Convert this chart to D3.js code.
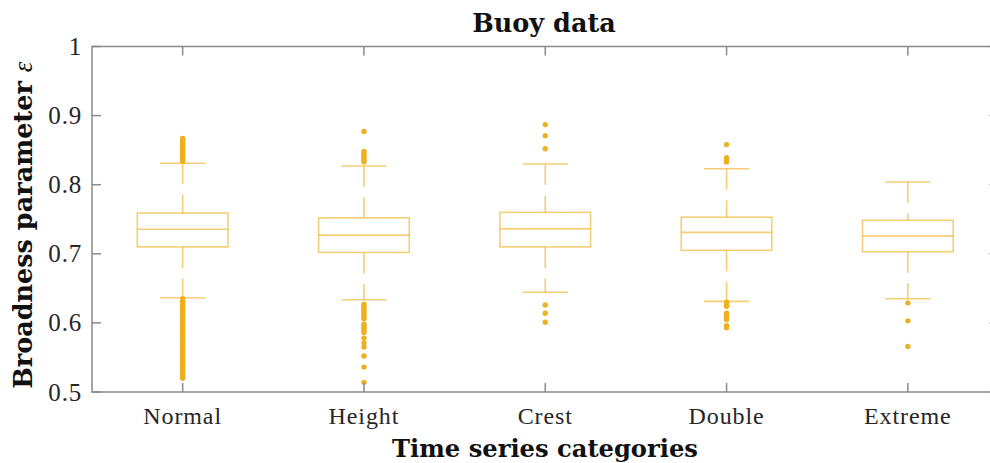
<!DOCTYPE html>
<html>
<head>
<meta charset="utf-8">
<script src="https://cdn.jsdelivr.net/npm/d3@7"></script>
<style>
  html, body { margin: 0; padding: 0; background: #fff; }
  svg { display: block; }
</style>
</head>
<body>
<div id="chart"></div>
<script>
// Box plot summaries of the broadness parameter per time-series category
const categories = ["Normal", "Height", "Crest", "Double", "Extreme"];
const q1         = [0.710, 0.702, 0.710, 0.705, 0.703];
const medians    = [0.7355, 0.727, 0.736, 0.731, 0.726];
const q3         = [0.759, 0.752, 0.760, 0.753, 0.7485];
const whiskerLow = [0.6365, 0.6336, 0.6443, 0.6312, 0.635];
const whiskerHigh= [0.831, 0.827, 0.830, 0.823, 0.804];

// Outliers beyond the whiskers
const outliersNormal = [
  0.834, 0.836, 0.838, 0.840, 0.842, 0.844, 0.846, 0.848, 0.850, 0.852,
  0.854, 0.856, 0.858, 0.860, 0.862, 0.864, 0.866, 0.867,
  0.635, 0.632, 0.629, 0.627, 0.624, 0.621, 0.618, 0.615, 0.612, 0.609,
  0.606, 0.603, 0.600, 0.597, 0.594, 0.591, 0.588, 0.585, 0.582, 0.579,
  0.576, 0.573, 0.570, 0.567, 0.564, 0.561, 0.558, 0.555, 0.552, 0.549,
  0.546, 0.543, 0.540, 0.537, 0.534, 0.531, 0.528, 0.525, 0.522, 0.520
];
const outliersHeight = [
  0.877, 0.848, 0.845, 0.842, 0.839, 0.836, 0.833,
  0.627, 0.624, 0.621, 0.618, 0.615, 0.612, 0.609, 0.606,
  0.598, 0.595, 0.592, 0.589, 0.586, 0.578, 0.571, 0.565,
  0.552, 0.536, 0.514
];
const outliersCrest = [0.887, 0.871, 0.852, 0.626, 0.614, 0.601];
const outliersDouble = [
  0.858, 0.839, 0.836, 0.833,
  0.630, 0.627, 0.624, 0.614, 0.611, 0.608, 0.605, 0.596, 0.593
];
const outliersExtreme = [0.629, 0.603, 0.566];
const outliers = [outliersNormal, outliersHeight, outliersCrest, outliersDouble, outliersExtreme];

const yTickValues = [0.5, 0.6, 0.7, 0.8, 0.9, 1];
const yTickLabels = ["0.5", "0.6", "0.7", "0.8", "0.9", "1"];

const titleText = "Buoy data";
const xLabelText = "Time series categories";
const yLabelText = "Broadness parameter ";
const yLabelSymbol = "\u03b5";

// ---- layout ----
const W = 990, H = 463;
const plot = { left: 92, right: 998.5, top: 46.5, bottom: 392 };
const axisColor = "#8a8a8a";
const textColor = "#262626";
const boxColor = "#EDB120";
const serif = "'Liberation Serif', 'Times New Roman', serif";
const boldSerif = "'DejaVu Serif', serif";

const svg = d3.select("#chart").append("svg")
  .attr("width", W).attr("height", H);

const x = d3.scaleLinear().domain([0.5, categories.length + 0.5])
  .range([plot.left, plot.right]);
const y = d3.scaleLinear().domain([0.5, 1]).range([plot.bottom, plot.top]);

const boxHalf = 0.25;   // box width 0.5 category units
const capHalf = 0.125;  // whisker cap width 0.25 units

const g = svg.append("g");

// whiskers (dashed), caps, boxes and medians
categories.forEach((c, i) => {
  const cx = x(i + 1);
  const grp = g.append("g")
    .attr("stroke", boxColor).attr("stroke-opacity", 0.62)
    .attr("stroke-width", 1.6).attr("fill", "none");
  grp.append("line")
    .attr("x1", cx).attr("x2", cx)
    .attr("y1", y(whiskerHigh[i])).attr("y2", y(q3[i]))
    .attr("stroke-dasharray", "21 10.5");
  grp.append("line")
    .attr("x1", cx).attr("x2", cx)
    .attr("y1", y(q1[i])).attr("y2", y(whiskerLow[i]))
    .attr("stroke-dasharray", "21 10.5");
  [whiskerHigh[i], whiskerLow[i]].forEach(v => {
    grp.append("line")
      .attr("x1", x(i + 1 - capHalf)).attr("x2", x(i + 1 + capHalf))
      .attr("y1", y(v)).attr("y2", y(v));
  });
  grp.append("rect")
    .attr("x", x(i + 1 - boxHalf))
    .attr("width", x(i + 1 + boxHalf) - x(i + 1 - boxHalf))
    .attr("y", y(q3[i]))
    .attr("height", y(q1[i]) - y(q3[i]));
  grp.append("line")
    .attr("x1", x(i + 1 - boxHalf)).attr("x2", x(i + 1 + boxHalf))
    .attr("y1", y(medians[i])).attr("y2", y(medians[i]));
});

// outlier dots
categories.forEach((c, i) => {
  g.append("g").selectAll("circle")
    .data(outliers[i]).join("circle")
    .attr("cx", x(i + 1))
    .attr("cy", d => y(d))
    .attr("r", 2.7)
    .attr("fill", boxColor);
});

// ---- axes (box on, inward ticks) ----
const tickLen = 9;
const ax = svg.append("g").attr("stroke", axisColor).attr("stroke-width", 1.5).attr("fill", "none");
ax.append("rect")
  .attr("x", plot.left).attr("y", plot.top)
  .attr("width", plot.right - plot.left).attr("height", plot.bottom - plot.top);

const xTicks = categories.map((c, i) => i + 1);
xTicks.forEach(t => {
  ax.append("line").attr("x1", x(t)).attr("x2", x(t))
    .attr("y1", plot.bottom).attr("y2", plot.bottom - tickLen);
  ax.append("line").attr("x1", x(t)).attr("x2", x(t))
    .attr("y1", plot.top).attr("y2", plot.top + tickLen);
});
yTickValues.forEach(t => {
  ax.append("line").attr("x1", plot.left).attr("x2", plot.left + tickLen)
    .attr("y1", y(t)).attr("y2", y(t));
  ax.append("line").attr("x1", plot.right).attr("x2", plot.right - tickLen)
    .attr("y1", y(t)).attr("y2", y(t));
});

// tick labels
svg.append("g").selectAll("text")
  .data(yTickValues).join("text")
  .attr("x", plot.left - 10)
  .attr("y", d => y(d))
  .attr("dy", "0.34em")
  .attr("text-anchor", "end")
  .attr("font-family", serif)
  .attr("font-size", 25)
  .attr("letter-spacing", 0.8)
  .attr("fill", textColor)
  .text((d, i) => yTickLabels[i]);

svg.append("g").selectAll("text")
  .data(categories).join("text")
  .attr("x", (d, i) => x(i + 1))
  .attr("y", 424)
  .attr("text-anchor", "middle")
  .attr("font-family", serif)
  .attr("font-size", 24)
  .attr("letter-spacing", 0.9)
  .attr("fill", textColor)
  .text(d => d);

// title and axis labels
svg.append("text")
  .attr("x", 544).attr("y", 31.5)
  .attr("text-anchor", "middle")
  .attr("font-family", boldSerif).attr("font-weight", "bold")
  .attr("font-size", 25.5)
  .attr("fill", "#111")
  .text(titleText);

svg.append("text")
  .attr("x", 545).attr("y", 456.5)
  .attr("text-anchor", "middle")
  .attr("font-family", boldSerif).attr("font-weight", "bold")
  .attr("font-size", 24.2)
  .attr("fill", "#111")
  .text(xLabelText);

const yl = svg.append("text")
  .attr("transform", `translate(32, ${(y(0.5) + y(1)) / 2 + 6}) rotate(-90)`)
  .attr("text-anchor", "middle")
  .attr("font-family", boldSerif)
  .attr("font-size", 25.5)
  .attr("fill", "#111");
yl.append("tspan").attr("font-weight", "bold").text(yLabelText);
yl.append("tspan").attr("font-style", "italic").attr("font-family", serif)
  .attr("font-size", 27).text(yLabelSymbol);
</script>
</body>
</html>
